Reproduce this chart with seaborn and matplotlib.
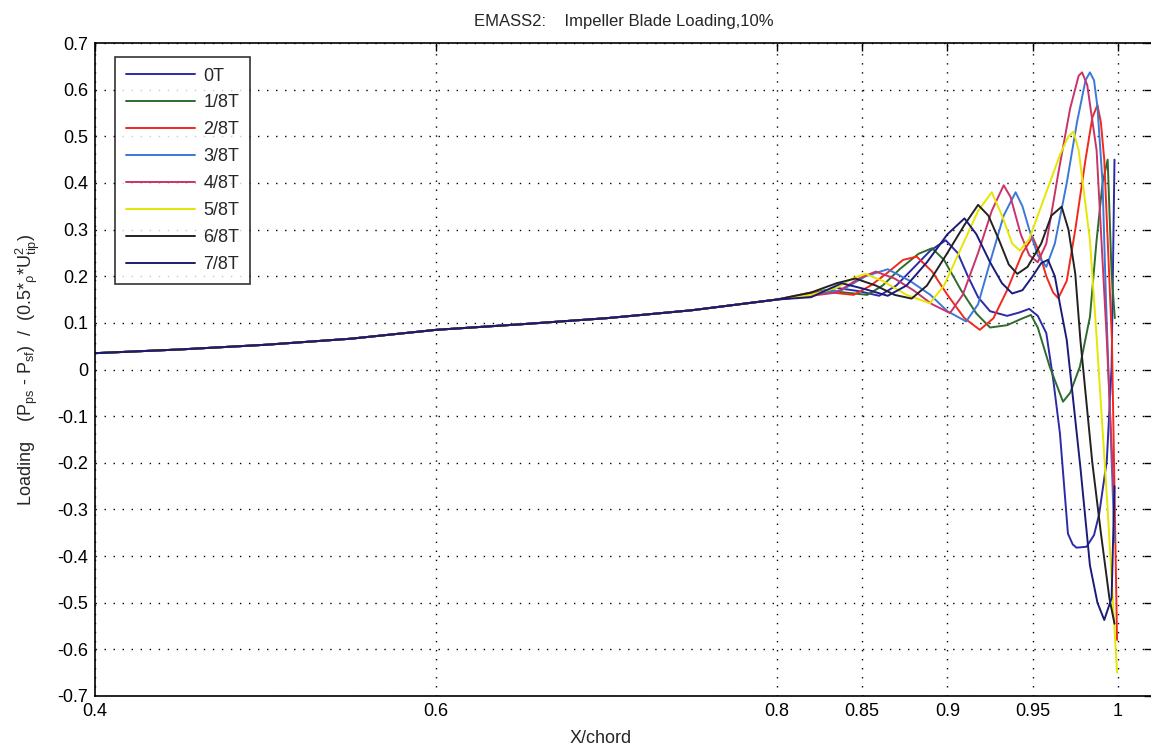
import matplotlib as mtl
mtl.use('Agg')
import matplotlib.pyplot as plt
import numpy as np
import pandas as pd
import seaborn as sns

# common part of the loading curve (all phases overlap here)
base_x = [0.40, 0.45, 0.50, 0.55, 0.60, 0.65, 0.70, 0.75, 0.80]
base_y = [0.035, 0.043, 0.053, 0.066, 0.085, 0.097, 0.110, 0.127, 0.150]

# trailing part, one per rotor phase
x_0T = [0.82, 0.835, 0.848, 0.86, 0.87, 0.878, 0.89, 0.899, 0.906, 0.912, 0.918, 0.925, 0.935, 0.942, 0.948,
        0.953, 0.958, 0.962, 0.966, 0.9707, 0.9735, 0.9757, 0.9816, 0.986, 0.989, 0.9935, 0.9963, 0.998]
y_0T = [0.158, 0.175, 0.168, 0.158, 0.180, 0.210, 0.255, 0.277, 0.250, 0.200, 0.155, 0.125, 0.115, 0.122, 0.130,
        0.115, 0.078, -0.020, -0.137, -0.352, -0.375, -0.382, -0.380, -0.355, -0.310, -0.195, 0.006, 0.450]

x_1T = [0.815, 0.828, 0.84, 0.853, 0.862, 0.872, 0.883, 0.891, 0.898, 0.908, 0.917, 0.925, 0.935, 0.943, 0.949,
        0.953, 0.96, 0.9678, 0.972, 0.9777, 0.9836, 0.9875, 0.991, 0.994, 0.9963, 0.9982]
y_1T = [0.158, 0.170, 0.165, 0.160, 0.180, 0.215, 0.248, 0.260, 0.235, 0.170, 0.120, 0.090, 0.095, 0.108, 0.117,
        0.090, 0.006, -0.069, -0.050, 0.006, 0.113, 0.277, 0.400, 0.450, 0.206, 0.110]

x_2T = [0.82, 0.832, 0.845, 0.855, 0.864, 0.874, 0.882, 0.891, 0.90, 0.91, 0.919, 0.927, 0.935, 0.944, 0.950,
        0.954, 0.958, 0.962, 0.965, 0.970, 0.975, 0.981, 0.985, 0.988, 0.990, 0.992, 0.9965, 0.9995]
y_2T = [0.165, 0.165, 0.160, 0.180, 0.205, 0.235, 0.242, 0.210, 0.160, 0.110, 0.085, 0.110, 0.170, 0.250, 0.284,
        0.250, 0.200, 0.165, 0.153, 0.190, 0.300, 0.450, 0.540, 0.567, 0.530, 0.450, 0.063, -0.580]

x_3T = [0.82, 0.838, 0.852, 0.865, 0.878, 0.89, 0.90, 0.911, 0.918, 0.925, 0.933, 0.94, 0.944, 0.948, 0.953,
        0.958, 0.963, 0.97, 0.976, 0.981, 0.9836, 0.986, 0.988, 0.991, 0.993, 0.998]
y_3T = [0.160, 0.170, 0.200, 0.215, 0.190, 0.160, 0.125, 0.103, 0.140, 0.230, 0.330, 0.380, 0.350, 0.300, 0.245,
        0.220, 0.270, 0.400, 0.530, 0.620, 0.637, 0.620, 0.563, 0.400, 0.150, -0.370]

x_4T = [0.82, 0.835, 0.848, 0.858, 0.869, 0.88, 0.891, 0.9015, 0.909, 0.918, 0.926, 0.933, 0.937, 0.943, 0.948,
        0.953, 0.958, 0.965, 0.972, 0.977, 0.979, 0.982, 0.9875, 0.9935, 0.998]
y_4T = [0.158, 0.165, 0.195, 0.210, 0.195, 0.170, 0.140, 0.121, 0.160, 0.250, 0.340, 0.395, 0.370, 0.290, 0.245,
        0.230, 0.270, 0.420, 0.560, 0.630, 0.637, 0.610, 0.470, 0.063, -0.300]

x_5T = [0.82, 0.835, 0.844, 0.852, 0.862, 0.876, 0.8897, 0.898, 0.908, 0.918, 0.926, 0.932, 0.938, 0.9425, 0.948,
        0.958, 0.966, 0.971, 0.974, 0.977, 0.9836, 0.9875, 0.994, 0.9995]
y_5T = [0.160, 0.175, 0.195, 0.205, 0.190, 0.160, 0.142, 0.180, 0.260, 0.340, 0.380, 0.330, 0.270, 0.255, 0.280,
        0.380, 0.460, 0.500, 0.510, 0.470, 0.277, 0.070, -0.300, -0.650]

x_6T = [0.82, 0.835, 0.846, 0.858, 0.869, 0.879, 0.888, 0.90, 0.91, 0.918, 0.924, 0.93, 0.936, 0.941, 0.947,
        0.955, 0.961, 0.967, 0.971, 0.975, 0.978, 0.985, 0.990, 0.995, 0.998]
y_6T = [0.165, 0.185, 0.195, 0.180, 0.160, 0.152, 0.180, 0.250, 0.310, 0.353, 0.330, 0.280, 0.225, 0.205, 0.220,
        0.270, 0.330, 0.349, 0.300, 0.205, 0.063, -0.200, -0.350, -0.490, -0.545]

x_7T = [0.82, 0.838, 0.852, 0.865, 0.876, 0.888, 0.900, 0.910, 0.917, 0.925, 0.932, 0.938, 0.944, 0.95, 0.955,
        0.959, 0.963, 0.966, 0.970, 0.978, 0.9836, 0.988, 0.992, 0.9963, 0.998]
y_7T = [0.155, 0.185, 0.172, 0.158, 0.180, 0.230, 0.290, 0.324, 0.290, 0.230, 0.185, 0.163, 0.170, 0.200, 0.228,
        0.235, 0.200, 0.140, 0.063, -0.210, -0.420, -0.500, -0.537, -0.490, -0.250]

labels = ["0T", "1/8T", "2/8T", "3/8T", "4/8T", "5/8T", "6/8T", "7/8T"]
colors = ["#2B2BA8", "#2E6B2E", "#F02A1E", "#3C78D8", "#C8346A", "#E6E600", "#222222", "#1C1C78"]
tails = [(x_0T, y_0T), (x_1T, y_1T), (x_2T, y_2T), (x_3T, y_3T),
         (x_4T, y_4T), (x_5T, y_5T), (x_6T, y_6T), (x_7T, y_7T)]

rows = []
for lab, (tx, ty) in zip(labels, tails):
    for xx, yy in zip(base_x + tx, base_y + ty):
        rows.append({"xc": xx, "load": yy, "phase": lab})
df = pd.DataFrame(rows)

xticks = [0.4, 0.6, 0.8, 0.85, 0.9, 0.95, 1.0]
xticklabels = ["0.4", "0.6", "0.8", "0.85", "0.9", "0.95", "1"]
yticks = [-0.7, -0.6, -0.5, -0.4, -0.3, -0.2, -0.1, 0, 0.1, 0.2, 0.3, 0.4, 0.5, 0.6, 0.7]
yticklabels = ["-0.7", "-0.6", "-0.5", "-0.4", "-0.3", "-0.2", "-0.1", "0",
               "0.1", "0.2", "0.3", "0.4", "0.5", "0.6", "0.7"]

sns.set_style("white")
plt.rcParams['font.family'] = ['Liberation Sans', 'DejaVu Sans']
plt.rcParams['mathtext.default'] = 'regular'

fig = plt.figure(figsize=(11.51, 7.5), dpi=100)
ax = fig.add_axes([95 / 1151., 1 - 696 / 750., 1057 / 1151., 653 / 750.])

sns.lineplot(data=df, x="xc", y="load", hue="phase", hue_order=labels,
             palette=dict(zip(labels, colors)), estimator=None, sort=False,
             linewidth=1.4, ax=ax)

ax.set_xlim(0.4, 1.02)
ax.set_ylim(-0.7, 0.7)
ax.set_xticks(xticks)
ax.set_xticklabels(xticklabels)
ax.set_yticks(yticks)
ax.set_yticklabels(yticklabels)
ax.grid(True, color="black", linestyle=(0, (1, 5.5)), linewidth=1.0)
ax.tick_params(direction="in", length=6, width=1, top=True, right=True,
               labelsize=13, colors="black", pad=5)
for s in ax.spines.values():
    s.set_color("black")
    s.set_linewidth(1.2)

ax.set_title("EMASS2:    Impeller Blade Loading,10%", fontsize=12, pad=12)
ax.set_xlabel("X/chord", fontsize=13)
ax.xaxis.set_label_coords(0.478, -0.052)
ax.set_ylabel(r"Loading    (P$_{ps}$ - P$_{sf}$)  /  (0.5*$_{\rho}$*U$^2_{tip}$)", fontsize=13)
ax.yaxis.set_label_coords(-0.050, 0.5)

leg = ax.legend(loc="upper left", bbox_to_anchor=(0.019, 0.979), fontsize=13,
                handlelength=3.8, handletextpad=0.5, labelspacing=0.55,
                borderpad=0.6, borderaxespad=0, frameon=True, fancybox=False, title=None)
leg.get_frame().set_edgecolor("black")
leg.get_frame().set_linewidth(1.2)
for h in leg.get_lines():
    h.set_linewidth(1.4)

plt.savefig("out.png", dpi=100)
